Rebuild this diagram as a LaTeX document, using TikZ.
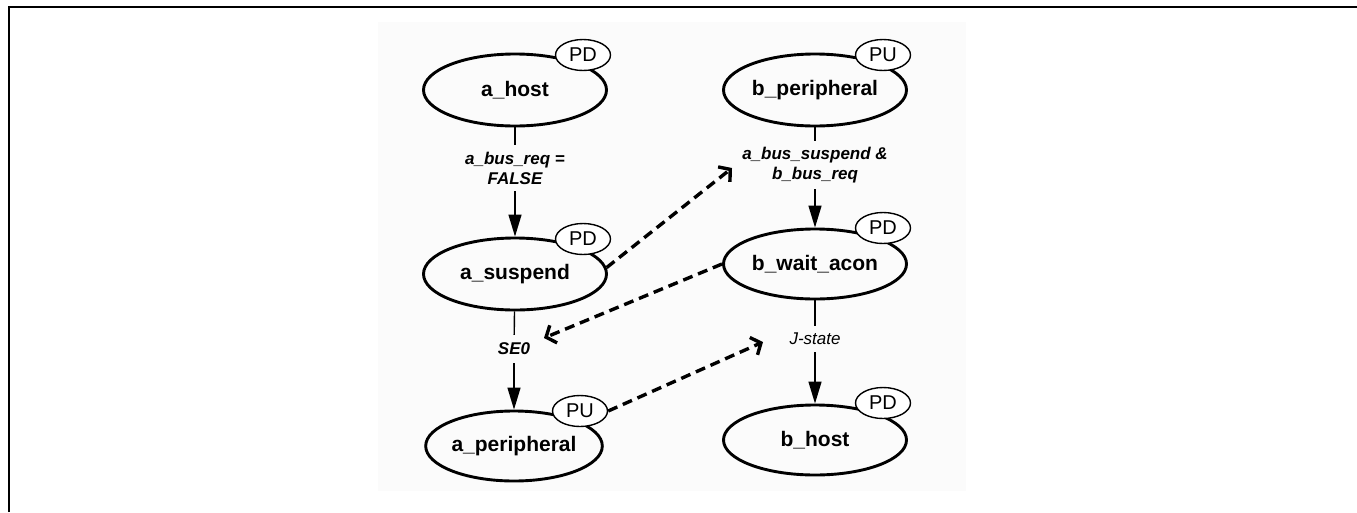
\documentclass[tikz,border=0pt]{standalone}
\usepackage{fontspec}
\setmainfont{Liberation Sans}
\usetikzlibrary{shapes.geometric,arrows.meta}
\definecolor{bgcol}{RGB}{251,251,251}
\begin{document}
\begin{tikzpicture}[x=1pt,y=-1pt,
  state/.style={ellipse, draw, line width=2.9pt, minimum width=183pt, minimum height=72pt, inner sep=0pt,
    font=\fontsize{21}{25}\selectfont\bfseries},
  tag/.style={ellipse, draw, line width=1.4pt, fill=white, minimum width=55pt, minimum height=31pt, inner sep=0pt,
    font=\fontsize{20}{22}\selectfont},
  lbl/.style={align=center, inner xsep=2pt, font=\fontsize{17}{20}\selectfont\bfseries\itshape},
  trans/.style={line width=1.4pt},
  tarrow/.style={trans, -{Triangle[length=22pt,width=13pt]}},
  dasharrow/.style={line width=3.4pt, dash pattern=on 10pt off 6pt, -{Straight Barb[length=8pt,width=19pt]}}
]
\useasboundingbox (0,0) rectangle (1357,512);
\fill[bgcol] (378,22) rectangle (966,491);
\draw[line width=2.4pt] (8.7,512) -- (8.7,7) -- (1357,7);

\node[state] (ahost) at (515,90) {a\_host};
\node[state] (asusp) at (515,274) {a\_suspend};
\node[state, minimum width=176pt, minimum height=70pt] (aper) at (514,446) {a\_peripheral};
\node[state] (bper) at (815,90) {b\_peripheral};
\node[state, minimum height=70pt] (bwait) at (815,264) {b\_wait\_acon};
\node[state, minimum height=70pt] (bhost) at (815,440) {b\_host};

\node[tag] (tahost) at (583,55) {PD};
\node[tag] (tasusp) at (583,239) {PD};
\node[tag] (taper) at (580,411) {PU};
\node[tag] (tbper) at (883,55) {PU};
\node[tag] (tbwait) at (883,228) {PD};
\node[tag] (tbhost) at (883,403) {PD};

\node[lbl, inner ysep=7pt] (l1) at (515,168) {a\_bus\_req =\\FALSE};
\node[lbl, inner ysep=8pt] (l2) at (514,349) {SE0};
\node[lbl, inner ysep=6pt] (l3) at (815,165) {a\_bus\_suspend \&\\b\_bus\_req};
\node[lbl, inner ysep=7pt, font=\fontsize{17}{20}\selectfont\itshape] (l4) at (815,339) {J-state};

\draw[trans] (ahost) -- (l1);
\draw[tarrow] (l1) -- (asusp);
\draw[trans] (asusp) -- (l2);
\draw[tarrow] (l2) -- (aper);
\draw[trans] (bper) -- (l3);
\draw[tarrow] (l3) -- (bwait);
\draw[trans] (bwait) -- (l4);
\draw[tarrow] (l4) -- (bhost);

\coordinate (d1) at (732,168);
\coordinate (d2) at (544,338);
\coordinate (d3) at (763,342);
\draw[dasharrow] (asusp.4) -- (d1);
\draw[dasharrow] (bwait.west) -- (d2);
\draw[dasharrow] (taper.east) -- (d3);
\end{tikzpicture}
\end{document}
